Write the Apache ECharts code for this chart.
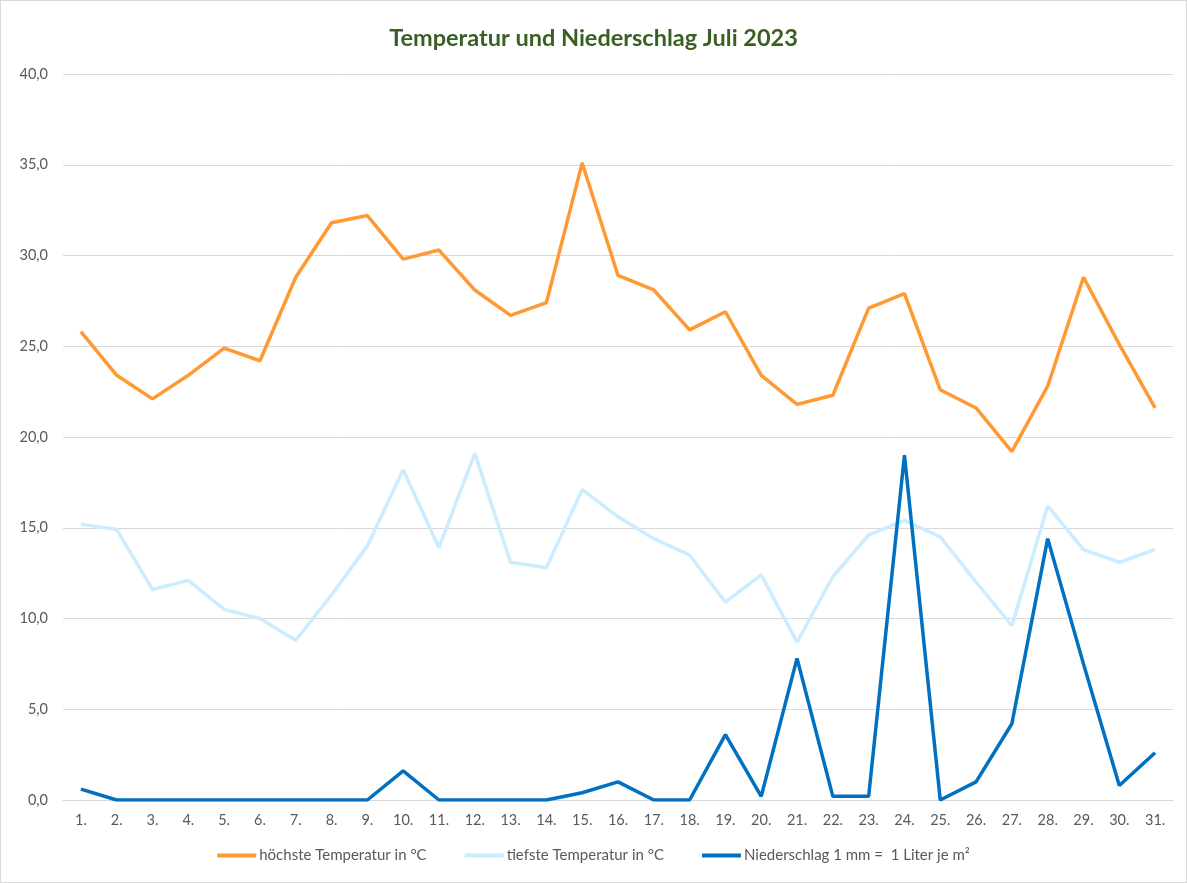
<!DOCTYPE html>
<html><head><meta charset="utf-8">
<script src="https://cdn.jsdelivr.net/npm/echarts@6/dist/echarts.min.js"></script>
<style>html,body{margin:0;padding:0;background:#fff}#c{width:1185px;height:881px;border:1px solid #d9d9d9}</style>
</head><body><div id="c"></div>
<script>
const days = ['1.','2.','3.','4.','5.','6.','7.','8.','9.','10.','11.','12.','13.','14.','15.','16.','17.','18.','19.','20.','21.','22.','23.','24.','25.','26.','27.','28.','29.','30.','31.'];
const tMax = [25.8,23.4,22.1,23.4,24.9,24.2,28.8,31.8,32.2,29.8,30.3,28.1,26.7,27.4,35.1,28.9,28.1,25.9,26.9,23.4,21.8,22.3,27.1,27.9,22.6,21.6,19.2,22.8,28.8,25.1,21.6];
const tMin = [15.2,14.9,11.6,12.1,10.5,10.0,8.8,11.3,14.0,18.2,13.9,19.1,13.1,12.8,17.1,15.6,14.4,13.5,10.9,12.4,8.7,12.3,14.6,15.4,14.5,12.0,9.6,16.2,13.8,13.1,13.8];
const rain = [0.6,0,0,0,0,0,0,0,0,1.6,0,0,0,0,0.4,1.0,0,0,3.6,0.2,7.8,0.2,0.2,19.0,0,1.0,4.2,14.4,7.5,0.8,2.6];
const names = ['höchste Temperatur in °C','tiefste Temperatur in °C','Niederschlag 1 mm =  1 Liter je m²'];
const colors = ['#FF9933','#CCECFF','#0070C0'];
const font = 'Lato, "Open Sans", sans-serif';
const chart = echarts.init(document.getElementById('c'));
const mk = (i, d) => ({name: names[i], type: 'line', data: d, symbol: 'none', lineStyle: {width: 3.5, color: colors[i]}, itemStyle: {color: colors[i]}});
chart.setOption({
  animation: false,
  textStyle: {fontFamily: font},
  title: {text: 'Temperatur und Niederschlag Juli 2023', left: 'center', top: 20, textStyle: {fontFamily: font, fontSize: 23.5, fontWeight: 'bold', color: '#3A5F22'}},
  legend: {bottom: 14, itemWidth: 39, itemHeight: 4, itemGap: 38, icon: 'rect', textStyle: {fontFamily: font, fontSize: 15, color: '#595959', padding: [0, 0, 0, -2]}, data: names},
  grid: {left: 62, right: 13, top: 73, bottom: 82, containLabel: false},
  xAxis: {type: 'category', data: days, boundaryGap: true,
    axisLine: {lineStyle: {color: '#d9d9d9'}}, axisTick: {show: false},
    axisLabel: {color: '#595959', fontSize: 14.5, margin: 13, fontFamily: font}},
  yAxis: {type: 'value', min: 0, max: 40, interval: 5,
    axisLabel: {color: '#595959', fontSize: 14.5, margin: 15, fontFamily: font, formatter: v => v.toFixed(1).replace('.', ',')},
    splitLine: {lineStyle: {color: '#d9d9d9', width: 1}}, axisLine: {show: false}},
  series: [mk(0, tMax), mk(1, tMin), mk(2, rain)]
});
</script></body></html>
